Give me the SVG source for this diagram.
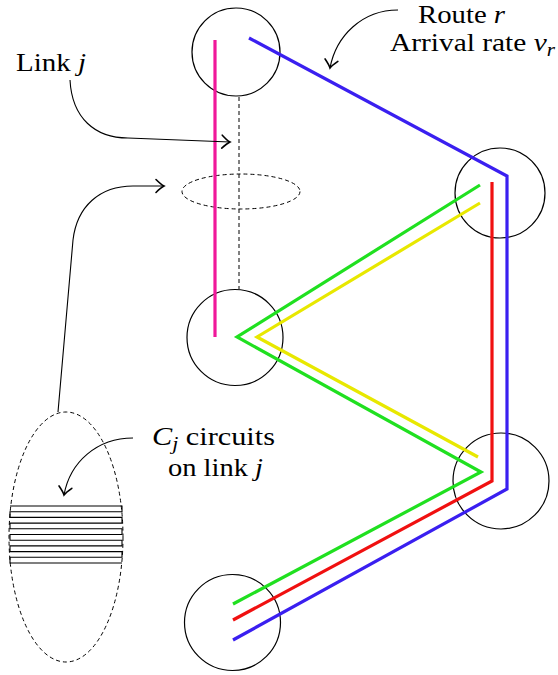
<svg xmlns="http://www.w3.org/2000/svg" width="558" height="675" viewBox="0 0 558 675">
  <style>
    .node { fill: none; stroke: #000; stroke-width: 1.2; }
    .route { fill: none; stroke-width: 3.2; stroke-linejoin: miter; }
    .dash { fill: none; stroke: #000; stroke-width: 1; stroke-dasharray: 4 3; }
    .note { fill: none; stroke: #000; stroke-width: 1.1; }
    text { font-family: "Liberation Serif", "DejaVu Serif", serif; font-size: 25px; fill: #000; }
    .it { font-style: italic; }
    .sub { font-size: 18px; font-style: italic; }
  </style>
  <defs>
    <marker id="open" viewBox="-10 -8 12 16" markerWidth="12" markerHeight="16" refX="0" refY="0" orient="auto" markerUnits="userSpaceOnUse">
      <path d="M -8 -6.5 Q -3 -1.5 0 0 Q -3 1.5 -8 6.5" fill="none" stroke="#000" stroke-width="1.6" stroke-linecap="round"/>
    </marker>
  </defs>

  <rect width="558" height="675" fill="#fff"/>

  <!-- network nodes -->
  <g id="node-top"><circle class="node" cx="236" cy="52" r="44"/></g>
  <g id="node-right-upper"><circle class="node" cx="500" cy="193" r="45"/></g>
  <g id="node-middle"><circle class="node" cx="235" cy="337.5" r="48"/></g>
  <g id="node-right-lower"><circle class="node" cx="501" cy="481" r="48"/></g>
  <g id="node-bottom"><circle class="node" cx="232.5" cy="622.5" r="48"/></g>

  <!-- link j: dashed link and its cross-section -->
  <g id="link-j">
    <line class="dash" x1="239" y1="97" x2="239" y2="289"/>
    <ellipse class="dash" cx="241" cy="191.5" rx="59" ry="17.5"/>
  </g>

  <!-- circuits of link j -->
  <g id="circuits">
    <ellipse class="dash" cx="66" cy="537" rx="57" ry="125"/>
    <path class="note" d="M 10 506 H 122 V 511.7 H 10 V 517.4 H 122 V 523.1 H 10 V 528.8 H 122 V 534.5 H 10 V 540.2 H 122 V 545.9 H 10 V 551.6 H 122 V 557.3 H 10 V 563 H 122"/>
  </g>

  <!-- routes -->
  <g id="routes">
    <polyline class="route" stroke="#f0189a" points="215,40 215,337"/>
    <polyline class="route" stroke="#3a1ff0" points="249,38 507,176 507,489 233,640"/>
    <polyline class="route" stroke="#f01010" points="492,182 492,481 233,620"/>
    <polyline class="route" stroke="#20e020" points="480,185 237,337 481,472 233,604"/>
    <polyline class="route" stroke="#e8e800" points="480,203 257,337 478,457"/>
  </g>

  <!-- annotation connectors -->
  <g id="connectors">
    <path class="note" marker-end="url(#open)" d="M 70 80 C 72 118 95 138 128 138 L 230 142"/>
    <path class="note" marker-end="url(#open)" d="M 58 412 L 73 240 C 77 206 100 186 133 186 L 164 186"/>
    <path class="note" marker-end="url(#open)" d="M 398 10 C 362 10 336 36 330 68"/>
    <path class="note" marker-end="url(#open)" d="M 133 438 C 97 438 70 462 64 495"/>
  </g>

  <!-- labels -->
  <g id="labels">
    <text x="16" y="71" textLength="70" lengthAdjust="spacingAndGlyphs">Link <tspan class="it">j</tspan></text>
    <text x="418" y="23" textLength="87" lengthAdjust="spacingAndGlyphs">Route <tspan class="it">r</tspan></text>
    <text x="390" y="51" textLength="165" lengthAdjust="spacingAndGlyphs">Arrival rate <tspan class="it">ν</tspan><tspan class="sub" dy="5">r</tspan></text>
    <text x="152" y="445" textLength="123" lengthAdjust="spacingAndGlyphs"><tspan class="it">C</tspan><tspan class="sub" dy="5">j</tspan><tspan dy="-5"> circuits</tspan></text>
    <text x="168" y="476" textLength="95" lengthAdjust="spacingAndGlyphs">on link <tspan class="it">j</tspan></text>
  </g>
</svg>
